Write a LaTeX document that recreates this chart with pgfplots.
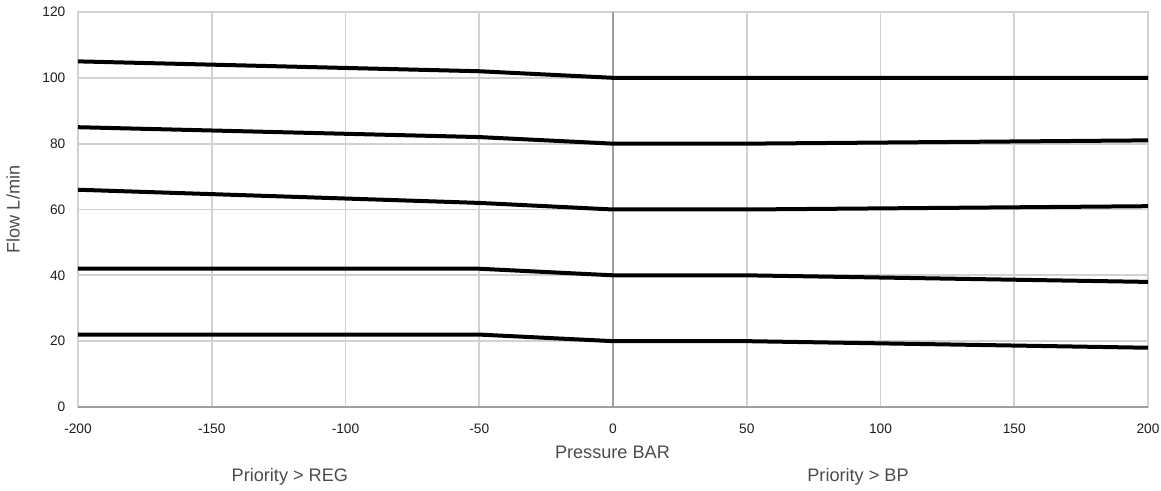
\documentclass[border=0pt]{standalone}
\usepackage{pgfplots}
\pgfplotsset{compat=1.18}
\usepackage{fontspec}
\setmainfont{Liberation Sans}
\definecolor{gridgray}{HTML}{D2D2D2}
\definecolor{axisgray}{HTML}{A0A0A0}
\definecolor{txt}{HTML}{1E1E1E}
\begin{document}
\begin{tikzpicture}
\useasboundingbox (-58.5pt,-63pt) rectangle (812.25pt,305.25pt);
\begin{axis}[
 scale only axis,width=802.5pt,height=296.25pt,
 xmin=-200,xmax=200,ymin=0,ymax=120,
 xtick={-200,-150,...,200},ytick={0,20,...,120},
 xticklabels={-200,-150,-100,-50,0,50,100,150,200},
 yticklabels={0,20,40,60,80,100,120},
 grid=major,major grid style={gridgray,line width=1.3pt},
 axis line style={gridgray,line width=1.3pt},
 tick style={draw=none},
 tick label style={font=\fontsize{10.3}{12}\selectfont,text=txt},
 xticklabel style={yshift=-9.5pt},
 yticklabel style={xshift=-6pt},
 clip=false]
\draw[axisgray,line width=1.6pt] (axis cs:-200,0) -- (axis cs:200,0);
\draw[axisgray,line width=1.6pt] (axis cs:0,0) -- (axis cs:0,120);
\addplot[black,line width=3pt] coordinates {(-200,105) (-50,102) (0,100) (50,100) (200,100)};
\addplot[black,line width=3pt] coordinates {(-200,85) (-50,82) (0,80) (50,80) (200,81)};
\addplot[black,line width=3pt] coordinates {(-200,66) (-50,62) (0,60) (50,60) (200,61)};
\addplot[black,line width=3pt] coordinates {(-200,42) (-50,42) (0,40) (50,40) (200,38)};
\addplot[black,line width=3pt] coordinates {(-200,22) (-50,22) (0,20) (50,20) (200,18)};
\node[font=\fontsize{13.6}{15}\selectfont,text=black!70,rotate=90] at (rel axis cs:-0.0607,0.5) {Flow L/min};
\node[font=\fontsize{13.6}{15}\selectfont,text=black!70] at (rel axis cs:0.4995,-0.114) {Pressure BAR};
\node[font=\fontsize{13.6}{15}\selectfont,text=black!70] at (rel axis cs:0.198,-0.177) {Priority > REG};
\node[font=\fontsize{13.6}{15}\selectfont,text=black!70] at (rel axis cs:0.729,-0.177) {Priority > BP};
\end{axis}
\end{tikzpicture}
\end{document}
